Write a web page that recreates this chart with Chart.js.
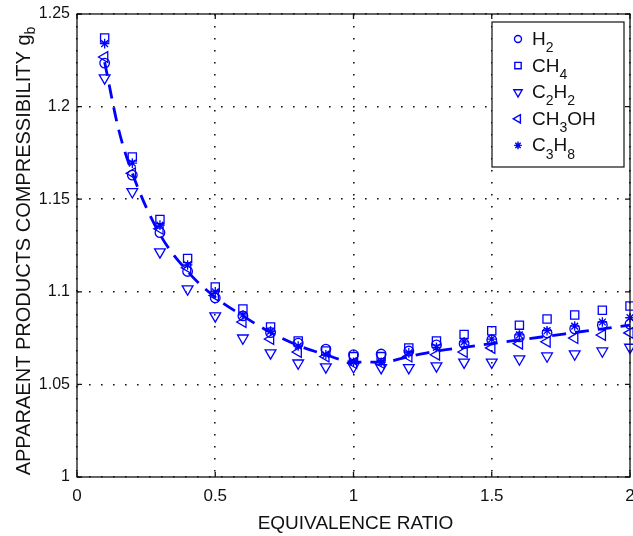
<!DOCTYPE html>
<html>
<head>
<meta charset="utf-8">
<script src="https://cdn.jsdelivr.net/npm/chart.js@4/dist/chart.umd.min.js"></script>
<style>
  html, body { margin: 0; padding: 0; background: #fff; }
  #wrap { width: 633px; height: 536px; }
</style>
</head>
<body>
<div id="wrap"><canvas id="chart" width="633" height="536"></canvas></div>
<script>
// equivalence ratio values (x)
const phi = [0.1, 0.2, 0.3, 0.4, 0.5, 0.6, 0.7, 0.8, 0.9, 1.0,
             1.1, 1.2, 1.3, 1.4, 1.5, 1.6, 1.7, 1.8, 1.9, 2.0];

// apparent products compressibility per fuel
const h2    = [1.2235, 1.163, 1.132, 1.111, 1.0967, 1.087, 1.078, 1.0723, 1.069, 1.066,
               1.0664, 1.068, 1.0713, 1.072, 1.074, 1.0757, 1.0778, 1.080, 1.082, 1.0826];
const ch4   = [1.237, 1.1728, 1.139, 1.118, 1.1026, 1.0907, 1.081, 1.0734, 1.068, 1.065,
               1.065, 1.0697, 1.0734, 1.077, 1.079, 1.082, 1.0853, 1.0875, 1.090, 1.0923];
const c2h2  = [1.2155, 1.154, 1.1215, 1.1015, 1.087, 1.075, 1.067, 1.0615, 1.0594, 1.0595,
               1.059, 1.059, 1.060, 1.062, 1.062, 1.0637, 1.0653, 1.0664, 1.068, 1.070];
const ch3oh = [1.2268, 1.164, 1.134, 1.113, 1.098, 1.0837, 1.0745, 1.0675, 1.065, 1.0615,
               1.0615, 1.065, 1.066, 1.0675, 1.0697, 1.072, 1.073, 1.075, 1.0767, 1.0778];
const c3h8  = [1.234, 1.1695, 1.136, 1.1145, 1.100, 1.0875, 1.0788, 1.0707, 1.066, 1.062,
               1.062, 1.067, 1.070, 1.073, 1.0745, 1.0767, 1.079, 1.0815, 1.0837, 1.086];

// dashed correlation curve
const phiFit = [0.1, 0.15, 0.2, 0.3, 0.4, 0.5, 0.6, 0.7, 0.8, 0.9, 1.0,
                1.1, 1.2, 1.3, 1.4, 1.5, 1.6, 1.7, 1.8, 1.9, 2.0];
const gFit   = [1.224, 1.188, 1.164, 1.131, 1.111, 1.097, 1.087, 1.078, 1.071, 1.066, 1.062,
                1.062, 1.065, 1.068, 1.070, 1.072, 1.074, 1.076, 1.078, 1.080, 1.082];

// axis ticks
const xTicks = [0, 0.5, 1, 1.5, 2];
const yTicks = [1, 1.05, 1.1, 1.15, 1.2, 1.25];

// legend labels: [main, sub, main, sub ...]
const legendParts = [
  ["H", "2"],
  ["CH", "4"],
  ["C", "2", "H", "2"],
  ["CH", "3", "OH"],
  ["C", "3", "H", "8"]
];

const BLUE = "#0000ff";
const FONT = "'Liberation Sans', Arial, Helvetica, sans-serif";

function pts(ys) {
  return phi.map((x, i) => ({ x: x, y: ys[i] }));
}

function markerSet(label, ys, style, radius, rotation) {
  return {
    type: "scatter",
    label: label,
    data: pts(ys),
    showLine: false,
    pointStyle: style,
    pointRadius: radius,
    pointRotation: rotation || 0,
    pointBorderColor: BLUE,
    pointBackgroundColor: "rgba(0,0,0,0)",
    pointBorderWidth: 1.3,
    clip: false,
    order: 2
  };
}

const datasets = [
  markerSet("H2", h2, "circle", 4.8),
  markerSet("CH4", ch4, "rect", 5.8),
  markerSet("C2H2", c2h2, "triangle", 6.2, 180),
  markerSet("CH3OH", ch3oh, "triangle", 6.2, -90),
  markerSet("C3H8", c3h8, "star", 4.8),
  {
    type: "line",
    label: "fit",
    data: phiFit.map((x, i) => ({ x: x, y: gFit[i] })),
    borderColor: BLUE,
    borderWidth: 2.8,
    borderDash: [14, 9],
    pointRadius: 0,
    cubicInterpolationMode: "monotone",
    fill: false,
    clip: false,
    order: 1
  }
];

// draws text with subscripts; parts alternate normal / subscript
function drawSubText(ctx, parts, x, y, size) {
  let cx = x;
  parts.forEach((p, i) => {
    const sub = i % 2 === 1;
    ctx.font = (sub ? Math.round(size * 0.72) : size) + "px " + FONT;
    ctx.fillText(p, cx, sub ? y + size * 0.38 : y);
    cx += ctx.measureText(p).width;
  });
  return cx - x;
}

const decor = {
  id: "decor",
  afterDraw(chart) {
    const ctx = chart.ctx;
    const a = chart.chartArea;
    const xs = chart.scales.x, ys = chart.scales.y;
    ctx.save();

    // frame
    ctx.strokeStyle = "#111";
    ctx.lineWidth = 1.3;
    ctx.strokeRect(a.left, a.top, a.right - a.left, a.bottom - a.top);

    // inward ticks on all four sides
    ctx.beginPath();
    xTicks.forEach(v => {
      const px = xs.getPixelForValue(v);
      ctx.moveTo(px, a.bottom); ctx.lineTo(px, a.bottom - 5);
      ctx.moveTo(px, a.top); ctx.lineTo(px, a.top + 5);
    });
    yTicks.forEach(v => {
      const py = ys.getPixelForValue(v);
      ctx.moveTo(a.left, py); ctx.lineTo(a.left + 5, py);
      ctx.moveTo(a.right, py); ctx.lineTo(a.right - 5, py);
    });
    ctx.stroke();

    // legend box
    const lx = 492, ly = 22, lw = 132, lh = 145;
    ctx.fillStyle = "#fff";
    ctx.fillRect(lx, ly, lw, lh);
    ctx.strokeStyle = "#111";
    ctx.lineWidth = 1.2;
    ctx.strokeRect(lx, ly, lw, lh);

    const legendStyles = [
      { pointStyle: "circle", radius: 3.5, rotation: 0 },
      { pointStyle: "rect", radius: 4.5, rotation: 0 },
      { pointStyle: "triangle", radius: 4.8, rotation: 180 },
      { pointStyle: "triangle", radius: 4.8, rotation: -90 },
      { pointStyle: "star", radius: 3.8, rotation: 0 }
    ];
    ctx.textBaseline = "alphabetic";
    ctx.textAlign = "left";
    legendParts.forEach((parts, i) => {
      const base = 45 + i * 26.6;
      const st = legendStyles[i];
      ctx.strokeStyle = BLUE;
      ctx.fillStyle = "rgba(0,0,0,0)";
      ctx.lineWidth = 1.4;
      Chart.helpers.drawPoint(ctx, {
        pointStyle: st.pointStyle, radius: st.radius, rotation: st.rotation, borderWidth: 1.4
      }, 518, base - 6);
      ctx.fillStyle = "#111";
      drawSubText(ctx, parts, 532, base, 19);
    });

    // x axis title
    ctx.fillStyle = "#111";
    ctx.font = "19px " + FONT;
    ctx.textAlign = "center";
    ctx.fillText("EQUIVALENCE RATIO", (a.left + a.right) / 2 + 2, 529);

    // y axis title with subscript b
    ctx.save();
    ctx.translate(30, 251);
    ctx.rotate(-Math.PI / 2);
    ctx.textAlign = "left";
    const main = "APPARAENT PRODUCTS COMPRESSIBILITY g";
    ctx.font = "20px " + FONT;
    const w1 = ctx.measureText(main).width;
    ctx.font = "14px " + FONT;
    const w2 = ctx.measureText("b").width;
    const start = -(w1 + w2) / 2;
    ctx.font = "20px " + FONT;
    ctx.fillText(main, start, 0);
    ctx.font = "14px " + FONT;
    ctx.fillText("b", start + w1, 5);
    ctx.restore();

    ctx.restore();
  }
};

new Chart(document.getElementById("chart"), {
  data: { datasets },
  options: {
    responsive: false,
    animation: false,
    layout: { autoPadding: false, padding: { top: 14, right: 3, left: 0, bottom: 0 } },
    plugins: {
      legend: { display: false },
      tooltip: { enabled: false }
    },
    scales: {
      x: {
        type: "linear",
        min: 0,
        max: 2,
        afterBuildTicks: s => { s.ticks = xTicks.map(v => ({ value: v })); },
        afterFit: s => { s.height = 59; s.paddingLeft = 0; s.paddingRight = 0; },
        grid: { color: "#111", lineWidth: 1.6, drawTicks: false },
        border: { display: false, dash: [1.6, 10.4] },
        ticks: {
          color: "#111",
          font: { family: FONT, size: 17 },
          padding: 9,
          maxRotation: 0,
          callback: v => String(v)
        }
      },
      y: {
        type: "linear",
        min: 1,
        max: 1.25,
        afterBuildTicks: s => { s.ticks = yTicks.map(v => ({ value: v })); },
        afterFit: s => { s.width = 77; s.paddingTop = 0; s.paddingBottom = 0; },
        grid: { color: "#111", lineWidth: 1.6, drawTicks: false },
        border: { display: false, dash: [1.6, 10.4] },
        ticks: {
          color: "#111",
          font: { family: FONT, size: 16 },
          padding: 7,
          callback: v => String(v)
        }
      }
    }
  },
  plugins: [decor]
});
</script>
</body>
</html>
